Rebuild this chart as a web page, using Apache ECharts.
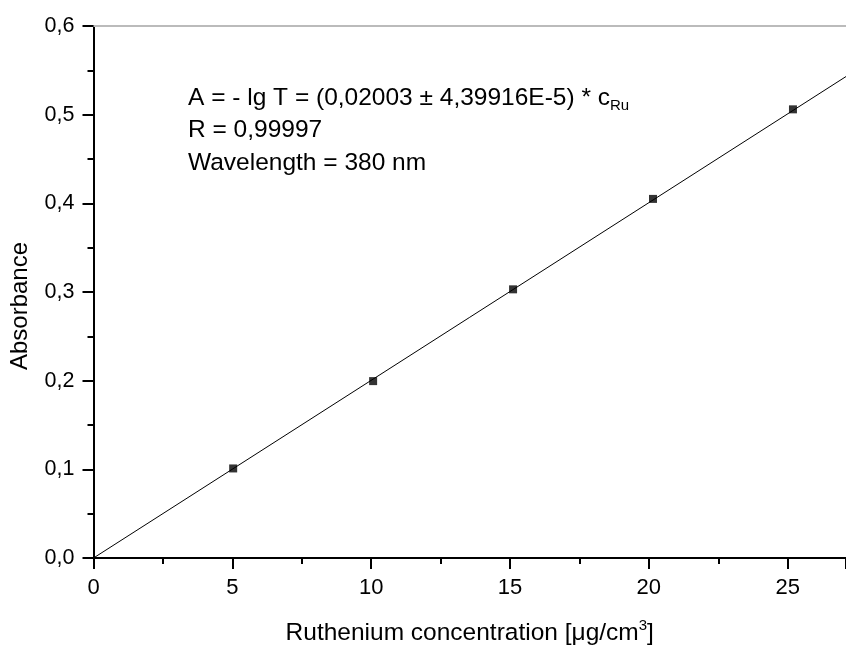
<!DOCTYPE html>
<html>
<head>
<meta charset="utf-8">
<script src="https://cdn.jsdelivr.net/npm/echarts@6/dist/echarts.min.js"></script>
<style>
  html, body { margin: 0; padding: 0; background: #fff; }
  #chart { width: 846px; height: 646px; }
</style>
</head>
<body>
<div id="chart"></div>
<script>
// measured points (Ru concentration µg/cm3, absorbance)
const concentration = [5.03, 10.07, 15.11, 20.15, 25.19];
const absorbance = [0.101, 0.1995, 0.303, 0.405, 0.506];
// linear fit A = 0.02003 * c, read at both ends of the plot
const fitX = [0, 27.1];
const fitY = [0, 0.543];
const annotation = [
  'A = - lg T = (0,02003 ± 4,39916E-5) * c{sub|Ru}',
  'R = 0,99997',
  'Wavelength = 380 nm'
];

const font = '"Liberation Sans", Arial, sans-serif';
const chart = echarts.init(document.getElementById('chart'));

chart.setOption({
  animation: false,
  backgroundColor: '#fff',
  grid: { left: 93.5, right: 0, top: 26, bottom: 88, outerBoundsMode: 'none', containLabel: false },
  xAxis: [{
    type: 'value',
    min: 0, max: 27.1, interval: 5,
    name: 'Ruthenium concentration [μg/cm{sup|3}]',
    nameLocation: 'middle',
    nameGap: 60,
    nameTextStyle: {
      fontFamily: font, fontSize: 24.5, color: '#000', lineHeight: 30,
      rich: { sup: { fontFamily: font, fontSize: 15, color: '#000', lineHeight: 14, verticalAlign: 'top' } }
    },
    axisLine: { onZero: false, lineStyle: { color: '#000', width: 2 } },
    axisTick: { length: 11, lineStyle: { color: '#000', width: 2 } },
    minorTick: { show: true, splitNumber: 2, length: 6, lineStyle: { color: '#000', width: 2 } },
    axisLabel: { margin: 19, fontFamily: font, fontSize: 22, color: '#000', showMaxLabel: false },
    splitLine: { show: false }
  }, {
    // grey top frame
    type: 'value', position: 'top',
    min: 0, max: 27.1,
    axisLine: { onZero: false, lineStyle: { color: '#bbb', width: 2 } },
    axisTick: { show: false }, axisLabel: { show: false }, splitLine: { show: false }
  }],
  yAxis: {
    type: 'value',
    min: 0, max: 0.6, interval: 0.1,
    name: 'Absorbance',
    nameLocation: 'middle',
    nameGap: 61,
    nameTextStyle: { fontFamily: font, fontSize: 24, color: '#000', padding: [0, 0, 0, -28] },
    axisLine: { onZero: false, lineStyle: { color: '#000', width: 2 } },
    axisTick: { length: 11, lineStyle: { color: '#000', width: 2 } },
    minorTick: { show: true, splitNumber: 2, length: 6, lineStyle: { color: '#000', width: 2 } },
    axisLabel: {
      margin: 19, fontFamily: font, fontSize: 21.5, color: '#000',
      formatter: v => v.toFixed(1).replace('.', ',')
    },
    splitLine: { show: false }
  },
  graphic: annotation.map((t, i) => ({
    type: 'text',
    left: 188,
    top: [83, 115, 148][i],
    style: {
      text: t,
      fontFamily: font, fontSize: 24.5, fill: '#000', lineHeight: 30,
      rich: { sub: { fontFamily: font, fontSize: 15, fill: '#000', lineHeight: 15, verticalAlign: 'bottom' } }
    }
  })),
  series: [{
    type: 'line',
    data: fitX.map((x, i) => [x, fitY[i]]),
    symbol: 'none',
    lineStyle: { color: '#000', width: 1 },
    silent: true
  }, {
    type: 'scatter',
    data: concentration.map((c, i) => [c, absorbance[i]]),
    symbol: 'rect',
    symbolSize: 8,
    itemStyle: { color: '#000' }
  }]
});
</script>
</body>
</html>
